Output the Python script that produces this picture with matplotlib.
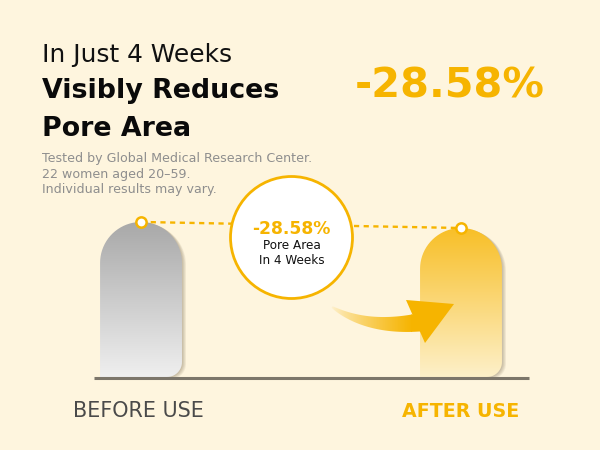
import numpy as np
import matplotlib
matplotlib.use("Agg")
import matplotlib.pyplot as plt
from matplotlib.patches import Polygon, Circle, Rectangle
from matplotlib.colors import to_rgba

# values
categories = ["BEFORE USE", "AFTER USE"]
pore_area = [100, 96.1]          # relative bar height
change_label = "-28.58%"
headline = ["In Just 4 Weeks", "Visibly Reduces", "Pore Area"]
notes = ["Tested by Global Medical Research Center.",
         "22 women aged 20\u201359.",
         "Individual results may vary."]
badge_lines = ["-28.58%", "Pore Area", "In 4 Weeks"]

BG = "#FEF5DE"
ORANGE = "#F6B400"
plt.rcParams["font.family"] = ["DejaVu Sans"]

fig = plt.figure(figsize=(6, 4.5), dpi=100)
fig.patch.set_facecolor(BG)
ax = fig.add_axes([0, 0, 1, 1])
ax.set_xlim(0, 600)
ax.set_ylim(450, 0)
ax.axis("off")

# axes that holds the bar scale
axb = fig.add_axes([94 / 600, 73 / 450, 435 / 600, 200 / 450])
axb.set_xlim(-0.147, 1.2125)
axb.set_ylim(0, 129)
axb.axis("off")
bar_w = 0.256


def to_px(x, y):
    return ax.transData.inverted().transform(axb.transData.transform((x, y)))


def bar_shape(x0, x1, yt, yb, rb=15):
    r = (x1 - x0) / 2
    xc = x0 + r
    th = np.linspace(np.pi, 0, 40)
    top = np.c_[xc + r * np.cos(th), yt + r - r * np.sin(th)]
    th2 = np.linspace(0, -np.pi / 2, 15)
    br = np.c_[x1 - rb + rb * np.cos(th2), yb - rb - rb * np.sin(th2)]
    return np.vstack([[x0, yb], [x0, yt + r], top, [x1, yt + r], br])


def gradient(c_a, c_b, n=200, horizontal=False, power=1.0):
    a = np.array(to_rgba(c_a))
    b = np.array(to_rgba(c_b))
    t = np.linspace(0, 1, n)[:, None] ** power
    g = a + (b - a) * t
    if horizontal:
        return g[None, :, :]
    return g[:, None, :]


bar_colors = [("#A8A8A8", "#EFEFEF"), ("#F8BF27", "#FDF0C9")]
tops = []
for i, v in enumerate(pore_area):
    x0, yb = to_px(i - bar_w / 2, 0)
    x1, yt = to_px(i + bar_w / 2, v)
    pts = bar_shape(x0, x1, yt, yb)
    # soft shadow
    for k in range(1, 6):
        ax.add_patch(Polygon(pts + [k * 0.8, k * 0.4], closed=True,
                             fc="#5a4a30", ec="none", alpha=0.07, zorder=1))
    shape = Polygon(pts, closed=True, fc="none", ec="none", zorder=2)
    ax.add_patch(shape)
    im = ax.imshow(gradient(*bar_colors[i]), extent=(x0, x1, yb, yt),
                   origin="upper", aspect="auto", zorder=2)
    im.set_clip_path(shape)
    tops.append(((x0 + x1) / 2, yt))

# baseline
bx0, by = to_px(-0.147, 0)
bx1, _ = to_px(1.2125, 0)
ax.plot([bx0, bx1], [by + 1, by + 1], color="#7C766A", lw=2.2, zorder=3,
        solid_capstyle="butt")

# dashed link between tops
ax.plot([tops[0][0], tops[1][0]], [tops[0][1], tops[1][1]], color=ORANGE,
        lw=1.7, ls=(0, (2.2, 1.9)), zorder=3)
ax.scatter([p[0] for p in tops], [p[1] for p in tops], s=55, fc="white",
           ec=ORANGE, lw=1.8, zorder=6)

# badge
cx, cy, cr = 291.5, 237.5, 61
ax.add_patch(Circle((cx, cy), cr, fc="white", ec=ORANGE, lw=2, zorder=5))

# curved arrow
t = np.linspace(0, 1, 60)[:, None]
P0, P1, P2 = np.array([332, 307]), np.array([368, 330]), np.array([422, 322])
c = (1 - t) ** 2 * P0 + 2 * (1 - t) * t * P1 + t ** 2 * P2
d = 2 * (1 - t) * (P1 - P0) + 2 * t * (P2 - P1)
nrm = np.c_[-d[:, 1], d[:, 0]] / np.linalg.norm(d, axis=1)[:, None]
w = 0.8 + 8.5 * t ** 0.8
body = np.vstack([c + nrm * w, (c - nrm * w)[::-1]])
body_p = Polygon(body, closed=True, fc="none", ec="none", zorder=4)
ax.add_patch(body_p)
im = ax.imshow(gradient((0.965, 0.706, 0, 0.0), ORANGE, horizontal=True,
                        power=0.7),
               extent=(330, 412, 345, 300), origin="upper", aspect="auto",
               zorder=4)
im.set_clip_path(body_p)
# solid end of the body, joining the head
body_end = Polygon(body, closed=True, fc=ORANGE, ec="none", zorder=4)
ax.add_patch(body_end)
body_end.set_clip_path(Rectangle((411, 300), 20, 50, transform=ax.transData))
ax.add_patch(Polygon([[406, 300], [454, 304], [425, 343]], closed=True,
                     fc=ORANGE, ec="none", zorder=4))

ax.set_xlim(0, 600)
ax.set_ylim(450, 0)

renderer = fig.canvas.get_renderer()


def fit_text(x, y, s, width, size=None, **kw):
    t = ax.text(x, y, s, fontsize=10, va="baseline", zorder=7, **kw)
    if size is None:
        size = 10 * width / t.get_window_extent(renderer).width
    t.set_fontsize(size)
    return size


fit_text(42, 62, headline[0], 189, color="#111111")
hs = fit_text(42, 98, headline[1], 237, color="#0A0A0A", fontweight="bold")
fit_text(42, 136, headline[2], 0, size=hs, color="#0A0A0A", fontweight="bold")

ns = fit_text(42, 162, notes[0], 269, color="#8E8E8E")
fit_text(42, 178, notes[1], 0, size=ns, color="#8E8E8E")
fit_text(42, 193, notes[2], 0, size=ns, color="#8E8E8E")

fit_text(355, 98, change_label, 191, color=ORANGE, fontweight="bold")

fit_text(cx, 234, badge_lines[0], 79, color=ORANGE, fontweight="bold",
         ha="center")
bs = fit_text(cx, 249, badge_lines[1], 58, color="#111111", ha="center")
fit_text(cx, 264, badge_lines[2], 0, size=bs, color="#111111", ha="center")

fit_text(73, 417, categories[0], 131, color="#4A4A4A")
fit_text(402, 417, categories[1], 117, color=ORANGE, fontweight="bold")

fig.savefig("out.png", dpi=100, facecolor=BG)
